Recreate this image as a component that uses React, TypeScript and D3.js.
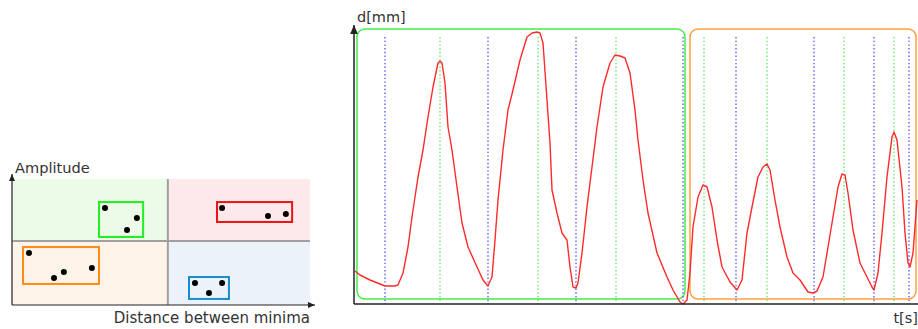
import React from 'react';
import * as d3 from 'd3';

// ── Left panel: cluster diagram (units 0..100 on both axes) ──────────────────
const QUAD_SPLIT_X = 52.3;
const QUAD_SPLIT_Y = 50.8;
const QUADS = [
  { name: 'tl', x0: 0, x1: QUAD_SPLIT_X, y0: QUAD_SPLIT_Y, y1: 100, fill: '#ebfbe7' },
  { name: 'tr', x0: QUAD_SPLIT_X, x1: 100, y0: QUAD_SPLIT_Y, y1: 100, fill: '#fde9e9' },
  { name: 'bl', x0: 0, x1: QUAD_SPLIT_X, y0: 0, y1: QUAD_SPLIT_Y, fill: '#fdf3e9' },
  { name: 'br', x0: QUAD_SPLIT_X, x1: 100, y0: 0, y1: QUAD_SPLIT_Y, fill: '#ebf2fa' },
];
const CLUSTERS = [
  { color: '#22ee22', x0: 29.2, x1: 44.0, y0: 54.0, y1: 81.7, pts: [[31.2, 77.0], [41.9, 69.0], [38.6, 59.5]] },
  { color: '#ee1111', x0: 68.8, x1: 94.0, y0: 65.9, y1: 81.7, pts: [[70.5, 77.0], [85.9, 70.6], [91.9, 72.2]] },
  { color: '#ff8a14', x0: 3.7, x1: 29.2, y0: 16.7, y1: 46.0, pts: [[5.7, 41.3], [14.1, 21.4], [17.4, 26.2], [26.8, 29.4]] },
  { color: '#1a8ccc', x0: 59.4, x1: 72.8, y0: 4.8, y1: 22.2, pts: [[61.4, 17.5], [66.1, 9.5], [70.5, 17.5]] },
];

// ── Right panel: displacement signal d[mm] over t[s] ─────────────────────────
const SIGNAL: [number, number][] = [
  [0.02, 3.3], [0.12, 2.9], [0.32, 2.4], [0.52, 2.0], [0.62, 1.8], [0.82, 1.8], [0.88, 1.9],
  [0.98, 3.1], [1.08, 5.7], [1.16, 8.7], [1.28, 12.7], [1.38, 15.4], [1.48, 18.7], [1.58, 21.7],
  [1.68, 24.1], [1.72, 24.3], [1.76, 24.1], [1.82, 22.1], [1.88, 17.7], [1.96, 15.4], [2.06, 11.7],
  [2.16, 8.1], [2.28, 5.7], [2.46, 3.7], [2.58, 2.4], [2.68, 1.8], [2.76, 2.7], [2.82, 6.4],
  [2.88, 10.4], [2.98, 15.4], [3.08, 19.4], [3.18, 21.4], [3.32, 24.4], [3.46, 26.7], [3.56, 27.1],
  [3.66, 27.2], [3.72, 27.1], [3.78, 26.1], [3.86, 20.4], [3.92, 16.1], [3.96, 11.4], [4.06, 9.1],
  [4.16, 7.1], [4.26, 6.4], [4.32, 3.7], [4.38, 1.7], [4.44, 1.6], [4.48, 2.1], [4.56, 5.1],
  [4.66, 9.7], [4.76, 13.7], [4.86, 17.7], [4.98, 21.7], [5.12, 24.1], [5.22, 24.9], [5.32, 24.8],
  [5.42, 24.6], [5.52, 23.1], [5.62, 19.4], [5.68, 16.4], [5.78, 12.4], [5.88, 9.1], [6.06, 5.1],
  [6.26, 2.7], [6.38, 1.4], [6.52, 0.2], [6.58, 0.0], [6.66, 0.4], [6.72, 3.1], [6.78, 7.7],
  [6.88, 10.7], [6.98, 11.9], [7.06, 11.7], [7.16, 9.7], [7.26, 6.4], [7.36, 3.7], [7.52, 2.2],
  [7.66, 1.4], [7.76, 2.4], [7.86, 7.1], [7.96, 9.7], [8.08, 12.7], [8.18, 13.7], [8.26, 14.0],
  [8.32, 13.4], [8.42, 10.4], [8.52, 7.7], [8.66, 4.7], [8.78, 3.1], [8.92, 2.4], [9.08, 1.2],
  [9.18, 1.1], [9.26, 1.3], [9.38, 2.7], [9.48, 5.7], [9.58, 8.7], [9.68, 11.7], [9.76, 13.0],
  [9.82, 12.9], [9.88, 11.1], [9.98, 7.4], [10.12, 4.1], [10.26, 2.7], [10.36, 1.7], [10.40, 1.4],
  [10.48, 3.1], [10.56, 7.1], [10.66, 12.7], [10.76, 16.7], [10.80, 17.2], [10.86, 16.4],
  [10.96, 11.7], [11.02, 7.1], [11.08, 4.1], [11.12, 3.7], [11.18, 5.1], [11.26, 10.4],
];
const MINIMA_T = [0.62, 2.68, 4.44, 6.58, 7.64, 9.2, 10.4, 11.1];
const MAXIMA_T = [1.72, 3.68, 5.24, 7.0, 8.26, 9.8, 10.8];
const MARKER_TOP = 26.7;
const GROUPS = [
  { color: '#44ee44', t0: 0.06, t1: 6.62, d0: 0.5, d1: 27.5 },
  { color: '#ffa040', t0: 6.72, t1: 11.24, d0: 0.5, d1: 27.5 },
];

const W = 918, H = 329;
const FONT = '"DejaVu Sans", Verdana, sans-serif';

export default function App() {
  // left panel scales
  const lx = d3.scaleLinear().domain([0, 100]).range([12, 310]);
  const ly = d3.scaleLinear().domain([0, 100]).range([305, 179]);

  // right panel scales
  const x = d3.scaleLinear().domain([0, 11.28]).range([354, 918]);
  const y = d3.scaleLinear().domain([0, 27.8]).range([304, 26]);
  const line = d3.line<[number, number]>().x(d => x(d[0])).y(d => y(d[1])).curve(d3.curveLinear);

  return (
    <div style={{ position: 'fixed', left: 0, top: 0 }}>
      <svg width={W} height={H} viewBox={`0 0 ${W} ${H}`} style={{ display: 'block', background: '#fff' }}>
        <defs>
          <marker id="arr" viewBox="0 0 8 8" refX="7" refY="4" markerWidth="7" markerHeight="7" orient="auto">
            <path d="M0,1 L7,4 L0,7 z" fill="#222" />
          </marker>
        </defs>

        {/* ── left panel ── */}
        {QUADS.map(q => (
          <rect key={q.name} x={lx(q.x0)} y={ly(q.y1)} width={lx(q.x1) - lx(q.x0)} height={ly(q.y0) - ly(q.y1)} fill={q.fill} />
        ))}
        <line x1={lx(QUAD_SPLIT_X)} x2={lx(QUAD_SPLIT_X)} y1={ly(100)} y2={ly(0)} stroke="#a0a0a0" strokeWidth={2} />
        <line x1={lx(0)} x2={lx(100)} y1={ly(QUAD_SPLIT_Y)} y2={ly(QUAD_SPLIT_Y)} stroke="#a0a0a0" strokeWidth={2} />
        {CLUSTERS.map((c, i) => (
          <g key={i}>
            <rect x={lx(c.x0)} y={ly(c.y1)} width={lx(c.x1) - lx(c.x0)} height={ly(c.y0) - ly(c.y1)}
              fill="none" stroke={c.color} strokeWidth={2} />
            {c.pts.map((p, j) => (
              <circle key={j} cx={lx(p[0])} cy={ly(p[1])} r={3} fill="#000" />
            ))}
          </g>
        ))}
        <line x1={lx(0)} x2={lx(0)} y1={ly(0)} y2={174} stroke="#222" strokeWidth={1.2} markerEnd="url(#arr)" />
        <line x1={lx(0)} x2={315} y1={ly(0)} y2={ly(0)} stroke="#222" strokeWidth={1.2} markerEnd="url(#arr)" />
        <text x={15} y={173} fontFamily={FONT} fontSize={14.6} fill="#333">Amplitude</text>
        <text x={310} y={323} fontFamily={FONT} fontSize={15} fill="#333" textAnchor="end">Distance between minima</text>

        {/* ── right panel ── */}
        {GROUPS.map((g, i) => (
          <rect key={i} x={x(g.t0)} y={y(g.d1)} width={x(g.t1) - x(g.t0)} height={y(g.d0) - y(g.d1)}
            rx={8} fill="none" stroke={g.color} strokeWidth={1.5} />
        ))}
        {MINIMA_T.map((t, i) => (
          <line key={'mn' + i} x1={x(t)} x2={x(t)} y1={y(MARKER_TOP)} y2={y(0)} stroke="#4040ff" strokeWidth={1.2} strokeDasharray="1.4,2.3" />
        ))}
        {MAXIMA_T.map((t, i) => (
          <line key={'mx' + i} x1={x(t)} x2={x(t)} y1={y(MARKER_TOP)} y2={y(0)} stroke="#4ee84e" strokeWidth={1.2} strokeDasharray="1.4,2.3" />
        ))}
        <path d={line(SIGNAL) ?? ''} fill="none" stroke="#ff2a2a" strokeWidth={1.4} strokeLinejoin="round" />
        <line x1={x(0)} x2={x(0)} y1={y(0)} y2={25} stroke="#222" strokeWidth={1.5} markerEnd="url(#arr)" />
        <line x1={x(0)} x2={W} y1={y(0)} y2={y(0)} stroke="#222" strokeWidth={1.5} />
        <text x={357} y={22} fontFamily={FONT} fontSize={14.5} fill="#333">d[mm]</text>
        <text x={918} y={323} fontFamily={FONT} fontSize={14.5} fill="#333" textAnchor="end">t[s]</text>
      </svg>
    </div>
  );
}
